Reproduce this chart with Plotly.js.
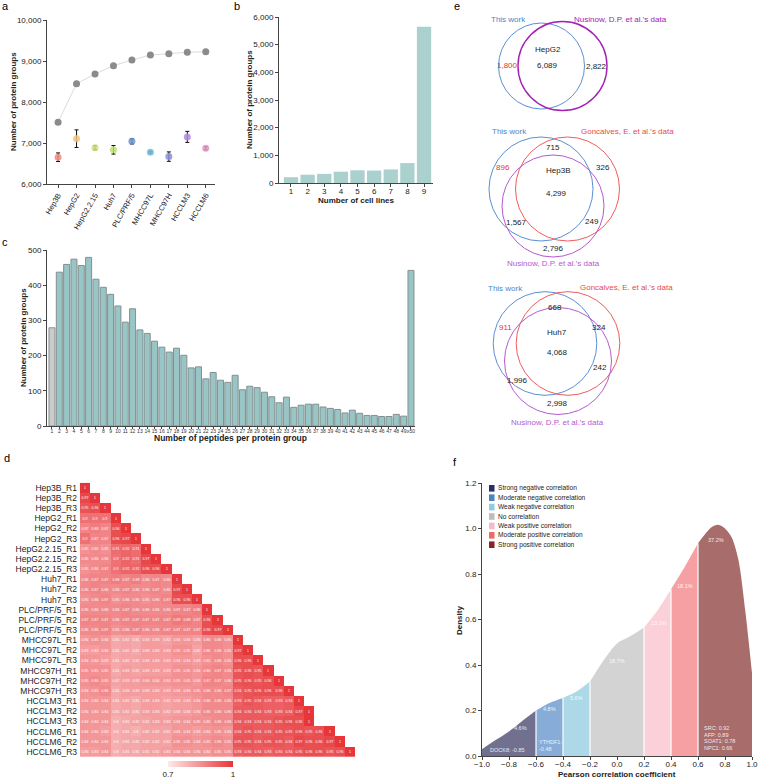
<!DOCTYPE html>
<html><head><meta charset="utf-8">
<script src="https://cdn.plot.ly/plotly-3.0.1.min.js"></script>
<style>html,body{margin:0;padding:0;background:#fff;}#chart{width:759px;height:779px;}</style>
</head><body><div id="chart"></div>
<script>
const W = 759, H = 779;
const FONT = 'Liberation Sans, Arial, sans-serif';

// ---------- Panel a ----------
const cellLines = ['Hep3B','HepG2','HepG2.2.15','Huh7','PLC/PRF/5','MHCC97L','MHCC97H','HCCLM3','HCCLM6'];
const cumulativeGroups = [7505, 8446, 8683, 8885, 9024, 9146, 9178, 9212, 9227];
const perLineGroups = [6653, 7106, 6884, 6834, 7040, 6777, 6668, 7149, 6870];
const perLineErr = [105, 215, 50, 105, 65, 25, 115, 135, 40];
const lineColors = ['#ee8a80','#f7c27e','#cfe07e','#b8e070','#6f97cc','#72bde0','#8a8fd6','#b58ae0','#e896c8'];

// ---------- Panel b ----------
const nCellLines = [1,2,3,4,5,6,7,8,9];
const groupsByCellLines = [210, 300, 330, 410, 460, 450, 490, 720, 5650];

// ---------- Panel c ----------
const peptideBins = ['1','2','3','4','5','6','7','8','9','10','11','12','13','14','15','16','17','18','19','20','21','22','23','24','25','26','27','28','29','30','31','32','33','34','35','36','37','38','39','40','41','42','43','44','45','46','47','48','49','≥50'];
const peptideCounts = [279,437,459,474,456,479,417,394,374,341,295,333,273,263,241,224,210,221,201,165,168,134,152,130,124,144,103,113,109,96,83,66,82,53,59,62,62,54,50,47,37,45,36,30,30,27,27,33,28,442];
const peptideBarColors = ['#cbcbcb'].concat(Array(49).fill('#98c5c5'));

// ---------- Panel d ----------
const samples = ['Hep3B_R1','Hep3B_R2','Hep3B_R3','HepG2_R1','HepG2_R2','HepG2_R3','HepG2.2.15_R1','HepG2.2.15_R2','HepG2.2.15_R3','Huh7_R1','Huh7_R2','Huh7_R3','PLC/PRF/5_R1','PLC/PRF/5_R2','PLC/PRF/5_R3','MHCC97L_R1','MHCC97L_R2','MHCC97L_R3','MHCC97H_R1','MHCC97H_R2','MHCC97H_R3','HCCLM3_R1','HCCLM3_R2','HCCLM3_R3','HCCLM6_R1','HCCLM6_R2','HCCLM6_R3'];
const corrRows = [
 [1],
 [0.97,1],
 [0.95,0.96,1],
 [0.90,0.90,0.90,1],
 [0.87,0.88,0.87,0.96,1],
 [0.90,0.87,0.87,0.96,0.97,1],
 [0.85,0.86,0.85,0.91,0.92,0.91,1],
 [0.86,0.86,0.86,0.90,0.92,0.91,0.97,1],
 [0.85,0.86,0.87,0.90,0.92,0.92,0.96,0.96,1],
 [0.86,0.87,0.87,0.88,0.87,0.88,0.86,0.87,0.86,1],
 [0.86,0.87,0.86,0.86,0.87,0.86,0.86,0.87,0.86,0.97,1],
 [0.85,0.86,0.87,0.85,0.86,0.86,0.85,0.86,0.87,0.96,0.96,1],
 [0.86,0.86,0.86,0.86,0.87,0.86,0.86,0.86,0.86,0.87,0.87,0.88,1],
 [0.87,0.87,0.87,0.86,0.87,0.87,0.87,0.87,0.87,0.89,0.88,0.87,0.96,1],
 [0.86,0.86,0.87,0.85,0.86,0.87,0.86,0.86,0.87,0.87,0.87,0.87,0.96,0.97,1],
 [0.84,0.85,0.84,0.81,0.82,0.81,0.83,0.83,0.82,0.84,0.84,0.83,0.86,0.86,0.85,1],
 [0.83,0.83,0.84,0.81,0.82,0.81,0.83,0.83,0.83,0.85,0.85,0.82,0.86,0.86,0.85,0.97,1],
 [0.84,0.84,0.83,0.81,0.82,0.82,0.83,0.83,0.83,0.84,0.84,0.83,0.85,0.86,0.85,0.96,0.96,1],
 [0.85,0.85,0.85,0.81,0.83,0.82,0.83,0.83,0.83,0.85,0.85,0.84,0.86,0.87,0.86,0.95,0.96,0.95,1],
 [0.85,0.86,0.85,0.82,0.83,0.83,0.84,0.84,0.84,0.85,0.85,0.84,0.87,0.87,0.86,0.95,0.96,0.95,0.96,1],
 [0.84,0.85,0.86,0.81,0.83,0.83,0.83,0.83,0.83,0.84,0.84,0.85,0.86,0.86,0.87,0.94,0.95,0.96,0.96,0.96,1],
 [0.84,0.84,0.84,0.81,0.82,0.81,0.83,0.83,0.82,0.83,0.83,0.84,0.86,0.86,0.86,0.93,0.95,0.94,0.93,0.93,0.94,1],
 [0.84,0.84,0.84,0.81,0.82,0.81,0.83,0.83,0.82,0.83,0.83,0.84,0.86,0.86,0.86,0.94,0.94,0.94,0.93,0.93,0.94,0.97,1],
 [0.84,0.84,0.84,0.80,0.81,0.82,0.82,0.83,0.83,0.84,0.84,0.85,0.85,0.86,0.86,0.94,0.94,0.94,0.94,0.95,0.96,0.96,1],
 [0.84,0.84,0.83,0.80,0.81,0.80,0.82,0.82,0.82,0.84,0.84,0.83,0.84,0.85,0.84,0.94,0.95,0.94,0.94,0.95,0.95,0.96,0.95,0.96,1],
 [0.84,0.84,0.84,0.80,0.81,0.81,0.82,0.82,0.82,0.85,0.85,0.84,0.85,0.86,0.85,0.95,0.95,0.94,0.95,0.95,0.94,0.97,0.96,0.96,0.97,1],
 [0.83,0.83,0.84,0.80,0.81,0.81,0.82,0.82,0.83,0.84,0.84,0.84,0.84,0.85,0.85,0.93,0.94,0.94,0.93,0.94,0.94,0.95,0.96,0.96,0.95,0.96,1]
];

// ---------- Panel e ----------
const hepg2Counts = [1800, 6089, 2822];                    // this work only, shared, Nusinow only
const hep3bCounts = [896, 715, 326, 4299, 1567, 249, 2796];
const huh7Counts  = [911, 668, 324, 4068, 1996, 242, 2998];

// ---------- Panel f ----------
const densX = [-1.0,-0.9,-0.8,-0.7,-0.6,-0.5,-0.4,-0.3,-0.2,-0.1,0.0,0.1,0.2,0.3,0.4,0.5,0.6,0.7,0.75,0.8,0.85,0.9,0.95,1.0];
const densY = [0.03,0.07,0.108,0.155,0.20,0.233,0.255,0.283,0.327,0.42,0.495,0.527,0.565,0.64,0.733,0.83,0.935,1.005,1.016,1.0,0.96,0.86,0.64,0.364];
const classBounds = [-1.0,-0.6,-0.4,-0.2,0.2,0.4,0.6,1.0];
const classNames = ['Strong negative correlation','Moderate negative correlation','Weak negative correlation','No correlation','Weak positive correlation','Moderate positive correlation','Strong positive correlation'];
const classPct = ['4.6%','4.8%','5.6%','18.7%','13.0%','18.1%','37.2%'];
const classFill = ['#71708f','#87acd8','#acd8e8','#d3d3d3','#fbd0d8','#f6a0a3','#a86c6b'];
const classKey  = ['#2a2d66','#4a84c8','#8ccde4','#bdbdbd','#f8b8c6','#f06868','#8a2525'];

const px = x => x / W;
const py = y => 1 - y / H;
const domX = (a, b) => [a / W, b / W];
const domY = (t, b) => [1 - b / H, 1 - t / H];

const traces = [];
// a
traces.push({type:'scatter', mode:'lines+markers', x: cellLines.map((_,i)=>i), y: cumulativeGroups,
  xaxis:'x', yaxis:'y', line:{color:'#dcdcdc', width:1}, marker:{color:'#8b8b8b', size:7}});
traces.push({type:'scatter', mode:'markers', x: cellLines.map((_,i)=>i), y: perLineGroups,
  xaxis:'x', yaxis:'y', marker:{color: lineColors, size:7, opacity:0.85},
  error_y:{type:'data', array: perLineErr, color:'#111', thickness:1, width:2}});
// b
traces.push({type:'bar', x: nCellLines, y: groupsByCellLines, xaxis:'x2', yaxis:'y2',
  marker:{color:'#abd1cf'}, width:0.86});
// c
traces.push({type:'bar', x: peptideBins.map((_,i)=>i), y: peptideCounts, xaxis:'x3', yaxis:'y3',
  marker:{color: peptideBarColors, line:{color:'#83908f', width:1}}, width:0.82});
// d
const n = samples.length;
const zMat = [], tMat = [];
for (let r = 0; r < n; r++) {
  const zr = [], tr = [];
  for (let c = 0; c < n; c++) {
    if (c < corrRows[r].length) { zr.push(corrRows[r][c]); tr.push(String(corrRows[r][c])); }
    else { zr.push(null); tr.push(''); }
  }
  zMat.push(zr); tMat.push(tr);
}
traces.push({type:'heatmap', z: zMat, text: tMat, texttemplate:'%{text}', textfont:{size:3.5, color:'#ffffff'},
  x: samples.map((_,i)=>i), y: samples.map((_,i)=>i), xaxis:'x4', yaxis:'y4',
  zmin:0.7, zmax:1, colorscale:[[0,'#feeaea'],[1,'#e6363a']], hoverongaps:false,
  colorbar:{orientation:'h', x: px(200.5), xanchor:'center', y: py(761), yanchor:'top',
    len:65, lenmode:'pixels', thickness:6, xpad:0, ypad:0, outlinewidth:0,
    tickvals:[0.7,1], ticktext:['0.7','1'], ticks:'', ticklabelstandoff:-2, tickfont:{size:8, color:'#222', family:FONT}}});
// f
for (let k = 0; k < classNames.length; k++) {
  const xs = [], ys = [];
  densX.forEach((v,i)=>{ if (v >= classBounds[k]-1e-9 && v <= classBounds[k+1]+1e-9) { xs.push(v); ys.push(densY[i]); } });
  traces.push({type:'scatter', mode:'lines', x: xs, y: ys, xaxis:'x5', yaxis:'y5', fill:'tozeroy',
    fillcolor: classFill[k], line:{width:0, shape:'spline', smoothing:0.8, color: classFill[k]}});
}
const sepX = [], sepY = [];
classBounds.slice(1,-1).forEach(b => { const i = densX.findIndex(v => Math.abs(v-b) < 1e-9); sepX.push(b,b,null); sepY.push(0, densY[i], null); });
traces.push({type:'scatter', mode:'lines', x: sepX, y: sepY, xaxis:'x5', yaxis:'y5', line:{color:'#ffffff', width:1.2}});

// ---------- axes ----------
const baseAxis = {showline:true, linecolor:'#444', linewidth:1, ticks:'outside', ticklen:3, tickcolor:'#444',
  tickfont:{size:8, color:'#222', family:FONT}, showgrid:false, zeroline:false, fixedrange:true};

const layout = {
  width: W, height: H, margin:{l:0,r:0,t:0,b:0}, paper_bgcolor:'#fff', plot_bgcolor:'rgba(0,0,0,0)',
  showlegend:false, font:{family:FONT, color:'#222'},
  xaxis: Object.assign({}, baseAxis, {domain: domX(47,215), anchor:'y', range:[-0.6,8.5],
    tickvals: cellLines.map((_,i)=>i), ticktext: cellLines, tickangle:-60, tickfont:{size:7.5, color:'#222', family:FONT}}),
  yaxis: Object.assign({}, baseAxis, {domain: domY(20,184), anchor:'x', range:[6000,10000],
    tickvals:[6000,7000,8000,9000,10000], tickformat:',d'}),
  xaxis2: Object.assign({}, baseAxis, {domain: domX(279,433), anchor:'y2', range:[0.28,9.54], tickvals: nCellLines,
    tickangle:0, ticklabelstandoff:-3}),
  yaxis2: Object.assign({}, baseAxis, {domain: domY(17,183), anchor:'x2', range:[0,6000],
    tickvals:[0,1000,2000,3000,4000,5000,6000], tickformat:',d'}),
  xaxis3: Object.assign({}, baseAxis, {domain: domX(47,415), anchor:'y3', range:[-0.68,49.55],
    tickvals: peptideBins.map((_,i)=>i), ticktext: peptideBins, ticklen:2, tickangle:0, ticklabelstandoff:-2,
    tickfont:{size:5, color:'#333', family:FONT}}),
  yaxis3: Object.assign({}, baseAxis, {domain: domY(250,426), anchor:'x3', range:[0,500],
    tickvals:[0,100,200,300,400,500]}),
  xaxis4: {domain: domX(80,355), anchor:'y4', range:[-0.5, n-0.5], visible:false, fixedrange:true},
  yaxis4: {domain: domY(482.7,757), anchor:'x4', range:[n-0.5,-0.5], showline:false, showgrid:false, zeroline:false,
    ticks:'', tickvals: samples.map((_,i)=>i), ticktext: samples, ticklabelstandoff:2,
    tickfont:{size:8.5, color:'#222', family:FONT}, fixedrange:true},
  xaxis5: Object.assign({}, baseAxis, {domain: domX(482,752), anchor:'y5', range:[-1,1],
    tickvals:[-1,-0.8,-0.6,-0.4,-0.2,0,0.2,0.4,0.6,0.8,1], tickformat:'.1f', tickangle:0, ticklabelstandoff:-3}),
  yaxis5: Object.assign({}, baseAxis, {domain: domY(483,756), anchor:'x5', range:[0,1.2],
    tickvals:[0,0.2,0.4,0.6,0.8,1.0,1.2], tickformat:'.1f'}),
  shapes: [], annotations: []
};

function ann(x, y, text, o) {
  o = o || {};
  layout.annotations.push(Object.assign({xref:'paper', yref:'paper', x: px(x), y: py(y), text: text,
    showarrow:false, xanchor: o.xanchor || 'center', yanchor: o.yanchor || 'middle',
    textangle: o.angle || 0, font:{family:FONT, size: o.size || 8, color: o.color || '#222', weight: o.weight || 'normal'}},
    o.opacity ? {opacity:o.opacity} : {}));
}
function circ(cx, cy, r, color, w) {
  layout.shapes.push({type:'circle', xref:'paper', yref:'paper', x0: px(cx-r), x1: px(cx+r), y0: py(cy+r), y1: py(cy-r),
    line:{color: color, width: w}});
}
const fmt = v => v.toLocaleString('en-US');

// panel letters
[['a',5,6],['b',237,6],['c',5,242],['d',7,458],['e',457,6],['f',455,462]].forEach(l => ann(l[1], l[2], l[0], {size:11, color:'#000'}));

// axis titles
ann(14, 102, 'Number of protein groups', {angle:-90, weight:'bold', size:8});
ann(250, 100, 'Number of protein groups', {angle:-90, weight:'bold', size:8});
ann(356, 200, 'Number of cell lines', {weight:'bold', size:8});
ann(23, 338, 'Number of protein groups', {angle:-90, weight:'bold', size:8});
ann(230, 438, 'Number of peptides per protein group', {weight:'bold', size:8.5});
ann(459, 620, 'Density', {angle:-90, weight:'bold', size:8});
ann(617, 774.5, 'Pearson correlation coefficient', {weight:'bold', size:8});

// Venn diagrams
const BLUE = '#5b8fd6', PURPLE1 = '#a321b5', PURPLE = '#b45ad0', RED = '#f25b5b', REDTXT = '#ee3333';
circ(541.5, 66, 43, BLUE, 1);
circ(562.5, 66, 44.5, PURPLE1, 1.4);
ann(508, 20, 'This work', {color:'#4a86c8'});
ann(620, 19, "Nusinow, D.P. et al.'s data", {color:PURPLE1});
ann(548, 49, 'HepG2');
ann(507, 66, fmt(hepg2Counts[0]), {color:REDTXT});
ann(547, 66, fmt(hepg2Counts[1]));
ann(596, 67, fmt(hepg2Counts[2]));

circ(541, 189, 52, BLUE, 1);
circ(567.5, 189, 52, RED, 1);
circ(553, 206, 51, PURPLE, 1);
ann(509, 131, 'This work', {color:'#4a86c8'});
ann(627, 131, "Goncalves, E. et al.'s data", {color:'#e84a4a'});
ann(553, 264, "Nusinow, D.P. et al.'s data", {color:PURPLE});
ann(503, 167, fmt(hep3bCounts[0]), {color:REDTXT});
ann(553, 147, fmt(hep3bCounts[1]));
ann(603, 167, fmt(hep3bCounts[2]));
ann(558, 171, 'Hep3B');
ann(556, 194, fmt(hep3bCounts[3]));
ann(516, 222, fmt(hep3bCounts[4]));
ann(592, 221, fmt(hep3bCounts[5]));
ann(553, 248, fmt(hep3bCounts[6]));

circ(545, 343.5, 51.8, BLUE, 1);
circ(568, 343.5, 51.8, RED, 1);
circ(558, 361, 53.5, PURPLE, 1);
ann(505, 288, 'This work', {color:'#4a86c8'});
ann(626, 287, "Goncalves, E. et al.'s data", {color:'#e84a4a'});
ann(557, 422, "Nusinow, D.P. et al.'s data", {color:PURPLE});
ann(505, 327, fmt(huh7Counts[0]), {color:REDTXT});
ann(555, 307, fmt(huh7Counts[1]));
ann(599, 327, fmt(huh7Counts[2]));
ann(557, 332, 'Huh7');
ann(557, 352, fmt(huh7Counts[3]));
ann(517, 380, fmt(huh7Counts[4]));
ann(600, 368, fmt(huh7Counts[5]));
ann(557, 404, fmt(huh7Counts[6]));

// panel f legend (manual)
const legTop = 488.3, legStep = 9.4;
classNames.forEach((name, k) => {
  const yc = legTop + k * legStep;
  layout.shapes.push({type:'rect', xref:'paper', yref:'paper', x0: px(489), x1: px(494.5), y0: py(yc+3.3), y1: py(yc-3.3),
    fillcolor: classKey[k], line:{width:0}});
  ann(496, yc, name, {xanchor:'left', size:6.6});
});
// panel f percentages and gene notes
const pctPos = [[520,728],[549,709],[576,698],[617,661],[659,623],[685,586],[716,540]];
classPct.forEach((p,k) => ann(pctPos[k][0], pctPos[k][1], p, {size:5.5, color:'#ffffff', opacity:0.85}));
ann(507, 750, 'DOCK8: -0.85', {size:5.5, color:'#ffffff', opacity:0.85});
ann(537, 742, 'YTHDF1:', {size:5.5, color:'#ffffff', xanchor:'left', opacity:0.85});
ann(537, 749, '-0.48', {size:5.5, color:'#ffffff', xanchor:'left', opacity:0.85});
['SRC: 0.92','AFP: 0.89','SOAT1: 0.78','NPC1: 0.66'].forEach((t,i) => ann(702, 728 + i*6.7, t, {size:5.5, color:'#ffffff', xanchor:'left', opacity:0.85}));

Plotly.newPlot('chart', traces, layout, {displayModeBar:false, staticPlot:true});
</script></body></html>
